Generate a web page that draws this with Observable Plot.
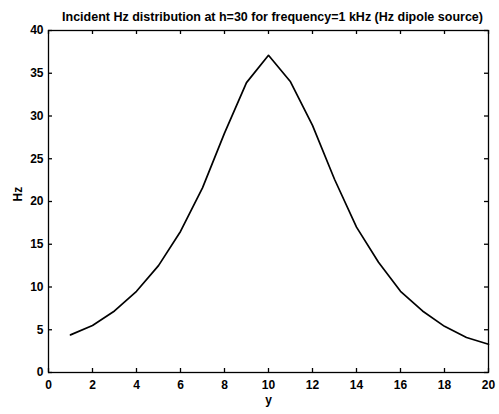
<!DOCTYPE html>
<html>
<head>
<meta charset="utf-8">
<script src="https://cdn.jsdelivr.net/npm/d3@7"></script>
<script src="https://cdn.jsdelivr.net/npm/@observablehq/plot@0.6"></script>
<style>
  html, body { margin: 0; padding: 0; background: #fff; }
  svg { font-family: "Liberation Sans", Arial, sans-serif; }
</style>
</head>
<body>
<div id="chart"></div>
<script>
const yPos = [1,2,3,4,5,6,7,8,9,10,11,12,13,14,15,16,17,18,19,20];
const hzValues = [4.4,5.5,7.2,9.5,12.5,16.5,21.6,28.0,33.9,37.1,34.0,28.9,22.6,17.0,12.9,9.5,7.2,5.4,4.1,3.3];
const xTicks = [0,2,4,6,8,10,12,14,16,18,20];
const yTicks = [0,5,10,15,20,25,30,35,40];
const titleText = "Incident Hz distribution at h=30 for frequency=1 kHz (Hz dipole source)";
const xLabel = "y";
const yLabel = "Hz";

const W = 499, H = 414;
const mL = 48, mR = 11, mT = 30, mB = 42;
const fw = W - mL - mR, fh = H - mT - mB;
const tl = 4;

const data = yPos.map((x, i) => ({x, v: hzValues[i]}));

const chart = Plot.plot({
  width: W, height: H,
  marginLeft: mL, marginRight: mR, marginTop: mT, marginBottom: mB,
  style: {fontFamily: "'Liberation Sans', Arial, sans-serif", background: "white", color: "black"},
  x: {domain: [0, 20], ticks: xTicks, label: null},
  y: {domain: [0, 40], ticks: yTicks, label: null},
  marks: [
    Plot.frame({stroke: "black", strokeWidth: 1.3}),
    Plot.tickX(xTicks, {x: d => d, insetTop: fh - tl, stroke: "black", strokeWidth: 1.3}),
    Plot.tickX(xTicks, {x: d => d, insetBottom: fh - tl, stroke: "black", strokeWidth: 1.3}),
    Plot.tickY(yTicks, {y: d => d, insetRight: fw - tl, stroke: "black", strokeWidth: 1.3}),
    Plot.tickY(yTicks, {y: d => d, insetLeft: fw - tl, stroke: "black", strokeWidth: 1.3}),
    Plot.axisX({ticks: xTicks, tickSize: 0, tickPadding: 8, fontSize: 12, fontWeight: "bold", label: null}),
    Plot.axisY({ticks: yTicks, tickSize: 0, tickPadding: 5, fontSize: 12, fontWeight: "bold", label: null}),
    Plot.line(data, {x: "x", y: "v", stroke: "black", strokeWidth: 1.7}),
    Plot.text([titleText], {frameAnchor: "top", dx: 4, dy: -18, text: d => d, fontSize: 12.5, fontWeight: "bold", fill: "black"}),
    Plot.text([xLabel], {frameAnchor: "bottom", dy: 31, text: d => d, fontSize: 12, fontWeight: "bold", fill: "black"}),
    Plot.text([yLabel], {frameAnchor: "left", dx: -30, rotate: -90, text: d => d, fontSize: 12, fontWeight: "bold", fill: "black"})
  ]
});
document.getElementById("chart").append(chart);
</script>
</body>
</html>
